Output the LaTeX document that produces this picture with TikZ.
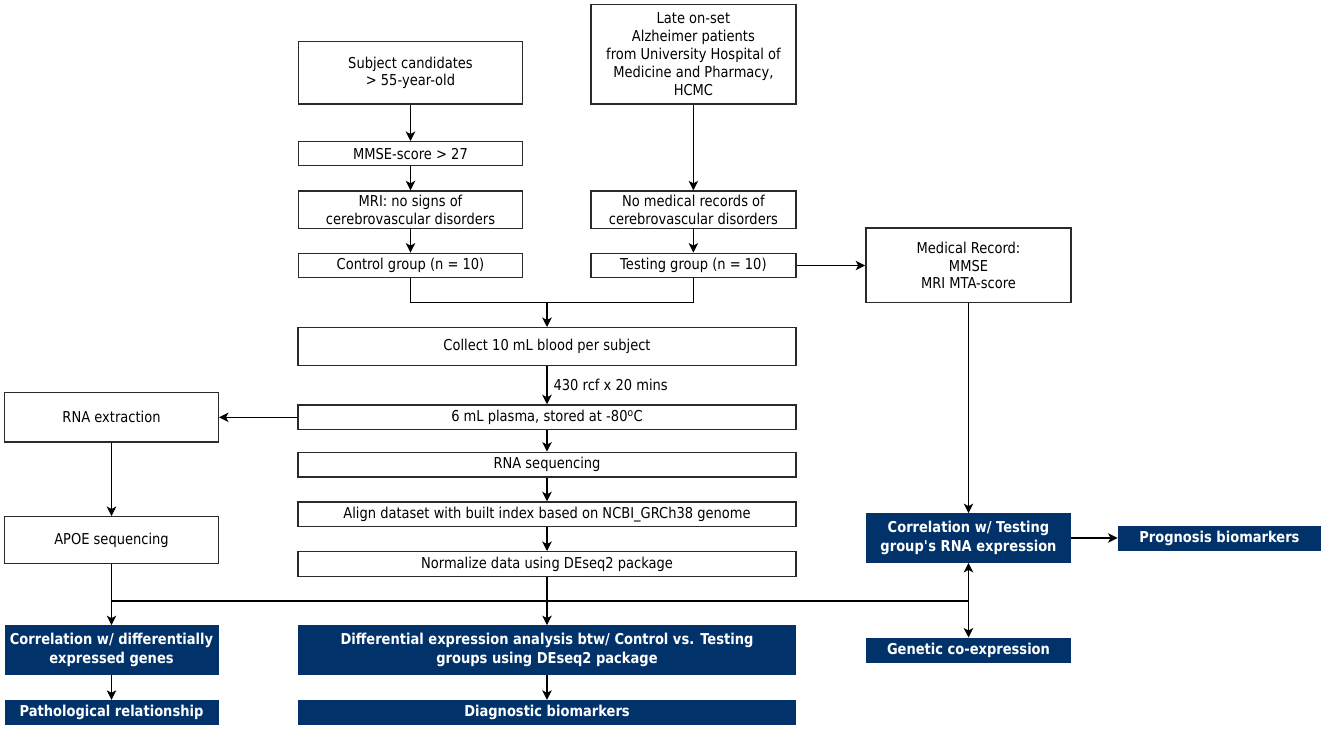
\documentclass[tikz,border=0pt]{standalone}
\usepackage{fontspec}
\setmainfont{DejaVu Sans}[FakeStretch=0.87]
\usetikzlibrary{arrows.meta}
\definecolor{navy}{HTML}{02326A}
\definecolor{edge}{HTML}{2A2A2A}
\tikzset{
  wbox/.style={draw=edge, line width=1.4pt, fill=white, inner sep=0pt, align=center,
    font=\fontsize{15}{17.8}\selectfont},
  nbox/.style={fill=navy, text=white, inner sep=0pt, align=center,
    font=\fontsize{15}{18.7}\selectfont\bfseries},
  conn/.style={line width=1.25pt, draw=black},
  arr/.style={conn, -{Stealth[length=9.5pt,width=9.5pt,inset=2.5pt]}},
  darr/.style={conn, {Stealth[length=9.5pt,width=9.5pt,inset=2.5pt]}-{Stealth[length=9.5pt,width=9.5pt,inset=2.5pt]}}
}
\begin{document}
\begin{tikzpicture}[x=1pt,y=-1pt]
\useasboundingbox (0,0) rectangle (1325,729);
% left-top column
\node[wbox, minimum width=224.5, minimum height=62.3] (subj) at (410.5,72.9) {Subject candidates\\> 55-year-old};
\node[wbox, minimum width=224.5, minimum height=24] (mmse) at (410.5,153.7) {MMSE-score > 27};
\node[wbox, minimum width=224.5, minimum height=37.3] (mri) at (410.5,209.7) {MRI: no signs of\\cerebrovascular disorders};
\node[wbox, minimum width=224.5, minimum height=24.4] (ctrl) at (410.5,265.5) {Control group (n = 10)};
% right-top column
\node[wbox, minimum width=204.8, minimum height=99.7] (late) at (693.4,54.2) {Late on-set\\Alzheimer patients\\from University Hospital of\\Medicine and Pharmacy,\\HCMC};
\node[wbox, minimum width=204.8, minimum height=37.3] (nomed) at (693.4,209.7) {No medical records of\\cerebrovascular disorders};
\node[wbox, minimum width=204.8, minimum height=24.4] (test) at (693.4,265.5) {Testing group (n = 10)};
\node[wbox, minimum width=205.3, minimum height=74.7] (medrec) at (968.5,265.4) {Medical Record:\\MMSE\\MRI MTA-score};
% main column
\node[wbox, minimum width=498, minimum height=37.6] (collect) at (547,346.5) {Collect 10 mL blood per subject};
\node[wbox, minimum width=498, minimum height=24.7] (plasma) at (547,417.3) {6 mL plasma, stored at -80\textsuperscript{o}C};
\node[wbox, minimum width=498, minimum height=24.7] (rnaseq) at (547,464.7) {RNA sequencing};
\node[wbox, minimum width=498, minimum height=24.7] (align) at (547,514.3) {Align dataset with built index based on NCBI\_GRCh38 genome};
\node[wbox, minimum width=498, minimum height=24.6] (norm) at (547,564) {Normalize data using DEseq2 package};
% left column
\node[wbox, minimum width=213.6, minimum height=49.3] (rnaext) at (111.5,417.3) {RNA extraction};
\node[wbox, minimum width=213.6, minimum height=47] (apoe) at (111.5,540.2) {APOE sequencing};
% result boxes
\node[nbox, minimum width=214, minimum height=49.7] (corrdiff) at (111.5,650.2) {Correlation w/ differentially\\expressed genes};
\node[nbox, minimum width=214, minimum height=25] (path) at (111.5,712.5) {Pathological relationship};
\node[nbox, minimum width=497.6, minimum height=49.7] (diffexp) at (547,650.2) {Differential expression analysis btw/ Control vs. Testing\\groups using DEseq2 package};
\node[nbox, minimum width=497.6, minimum height=25] (diag) at (547,712.5) {Diagnostic biomarkers};
\node[nbox, minimum width=205.3, minimum height=49.4] (corrtest) at (968.5,538) {Correlation w/ Testing\\group\textquotesingle s RNA expression};
\node[nbox, minimum width=203.3, minimum height=25.3] (prog) at (1219.4,538.3) {Prognosis biomarkers};
\node[nbox, minimum width=205.3, minimum height=25] (genetic) at (968.5,650.2) {Genetic co-expression};
% coordinates
\coordinate (join) at (547,302.7);
\coordinate (bus) at (547,601);
% connectors
\draw[arr] (subj) -- (mmse);
\draw[arr] (mmse) -- (mri);
\draw[arr] (mri) -- (ctrl);
\draw[arr] (late) -- (nomed);
\draw[arr] (nomed) -- (test);
\draw[conn] (ctrl.south) -- (ctrl.south |- join) -- (test.south |- join) -- (test.south);
\draw[arr] (join) -- (collect.north);
\draw[arr] (test.east) -- (medrec.west |- test.east);
\draw[arr] (medrec.south) -- (corrtest.north);
\draw[arr] (collect) -- node[right, inner sep=0pt, xshift=6pt, font=\fontsize{15}{17}\selectfont] (lbl) {430 rcf x 20 mins} (plasma);
\draw[arr] (plasma.west) -- (rnaext.east |- plasma.west);
\draw[arr] (plasma) -- (rnaseq);
\draw[arr] (rnaseq) -- (align);
\draw[arr] (align) -- (norm);
\draw[arr] (rnaext) -- (apoe);
\draw[conn] (apoe.south) -- (apoe.south |- bus) -- (corrtest.south |- bus);
\draw[conn] (norm.south) -- (bus);
\draw[arr] (apoe.south |- bus) -- (corrdiff.north);
\draw[arr] (bus) -- (diffexp.north);
\draw[darr] (corrtest.south) -- (genetic.north);
\draw[arr] (corrdiff) -- (path);
\draw[arr] (diffexp) -- (diag);
\draw[arr] (corrtest.east) -- (prog.west |- corrtest.east);
\end{tikzpicture}
\end{document}
